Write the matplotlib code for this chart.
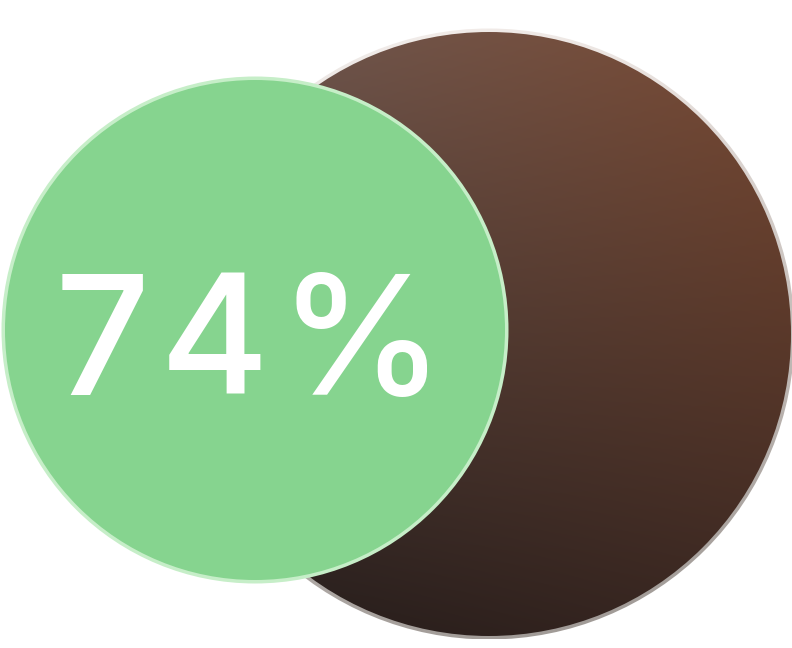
import numpy as np
import matplotlib
matplotlib.use("Agg")
import matplotlib.pyplot as plt
from matplotlib.patches import Circle
from matplotlib.colors import to_rgb

# data
share = 74
share_label = f"{share}%"


def gradient_disc(ax, cx, cy, r, corners, zorder):
    # bilinear blend of four corner colours, clipped to a circle
    n = 300
    u = np.linspace(0, 1, n)[None, :, None]
    v = np.linspace(0, 1, n)[:, None, None]
    tl, tr, bl, br = [np.array(to_rgb(c)) for c in corners]
    img = (1 - v) * ((1 - u) * tl + u * tr) + v * ((1 - u) * bl + u * br)
    im = ax.imshow(img, extent=(cx - r, cx + r, cy + r, cy - r),
                   interpolation="bilinear", zorder=zorder)
    clip = Circle((cx, cy), r, transform=ax.transData, facecolor="none")
    im.set_clip_path(clip)
    return im


fig = plt.figure(figsize=(7.92, 6.48), dpi=100)
ax = fig.add_axes([0, 0, 1, 1])
ax.set_xlim(0, 792)
ax.set_ylim(648, 0)
ax.set_aspect("equal")
ax.axis("off")

# big brown circle: ring first, then the disc
bx, by, br = 489, 334, 302
gradient_disc(ax, bx, by, br + 3.5, ["#f6f2f0", "#ece4e0", "#aaa4a0", "#9a9490"], 1)
gradient_disc(ax, bx, by, br, ["#6c5852", "#7a4a33", "#221b1a", "#3a2721"], 2)

# green circle
gx, gy, gr = 255, 330, 250
ax.add_patch(Circle((gx, gy), gr + 3.5, facecolor="#c6eec8", edgecolor="none", zorder=3))
ax.add_patch(Circle((gx, gy), gr, facecolor="#86d48f", edgecolor="none", zorder=4))

# label, one glyph at a time so the letter spacing can be opened up
left, right, baseline = 55, 444, 395
fs = 120
fig.canvas.draw()
renderer = fig.canvas.get_renderer()
glyphs = []
for ch in share_label:
    t = ax.text(0, baseline, ch, color="white", fontsize=fs, fontfamily="Inter",
                fontweight="medium", ha="left", va="baseline", zorder=5)
    w = t.get_window_extent(renderer).width
    glyphs.append((t, w))
gap = (right - left - sum(w for _, w in glyphs)) / (len(glyphs) - 1)
x = left
for t, w in glyphs:
    t.set_x(x)
    x += w + gap

fig.savefig("out.png", dpi=100)
